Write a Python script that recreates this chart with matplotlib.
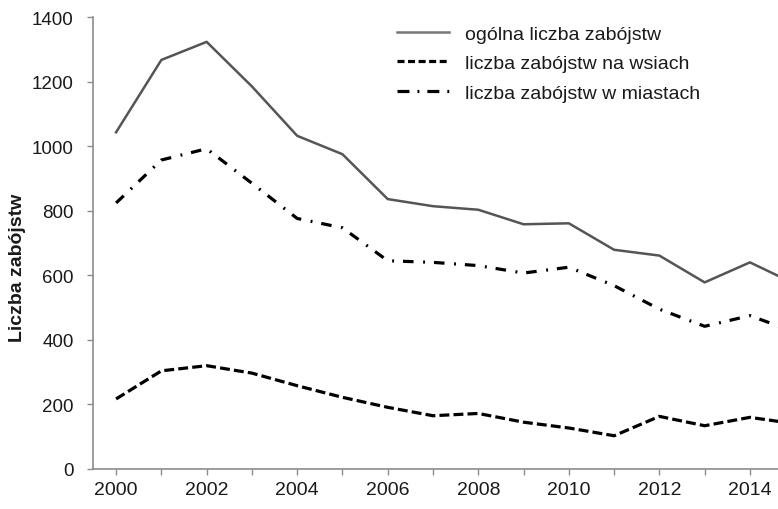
import numpy as np
import matplotlib
matplotlib.use("Agg")
import matplotlib.pyplot as plt

plt.rcParams['font.family'] = ['Liberation Sans', 'DejaVu Sans']

years = list(range(2000, 2016))
total = [1043, 1267, 1323, 1185, 1032, 975, 836, 814, 803, 758, 761, 679, 661, 578, 640, 573]
rural = [217, 304, 320, 297, 258, 222, 191, 165, 172, 145, 127, 103, 163, 134, 160, 140]
urban = [824, 957, 992, 885, 776, 747, 645, 640, 630, 607, 625, 568, 495, 442, 475, 424]

labels = ["ogólna liczba zabójstw", "liczba zabójstw na wsiach", "liczba zabójstw w miastach"]
xtick_years = list(range(2000, 2015))
xtick_labels = [str(y) if y % 2 == 0 else "" for y in xtick_years]
yticks = list(range(0, 1401, 200))

fig = plt.figure(figsize=(7.78, 5.10), dpi=100)
ax = fig.add_axes([93 / 778, 40 / 510, 685 / 778, 452 / 510])

ax.plot(years, total, '-', color="#555555", lw=1.8, label=labels[0])
ax.plot(years, rural, color="black", lw=2.3, dashes=(3.1, 1.3), label=labels[1])
ax.plot(years, urban, color="black", lw=2.3, dashes=(3.3, 3.0, 0.6, 2.8), label=labels[2])

ax.set_xlim(1999.49, 2014.62)
ax.set_ylim(0, 1400)

for s in ['top', 'right']:
    ax.spines[s].set_visible(False)
for s in ['left', 'bottom']:
    ax.spines[s].set_color("#8c8c8c")
    ax.spines[s].set_linewidth(1.2)

ax.set_xticks(xtick_years)
ax.set_xticklabels(xtick_labels)
ax.set_yticks(yticks)
ax.tick_params(axis='x', length=4.5, width=1, color="#8c8c8c", pad=4.5, labelsize=14, labelcolor="#1a1a1a")
ax.tick_params(axis='y', length=4.5, width=1, color="#8c8c8c", pad=9.5, labelsize=13.5, labelcolor="#1a1a1a")

fig.text(18 / 778, 1 - 268 / 510, "Liczba zabójstw", rotation=90, ha='center', va='center',
         fontsize=14, fontweight='bold', color="#1a1a1a")

leg = ax.legend(loc='upper left', bbox_to_anchor=(397 / 778, 1 - 26 / 510), bbox_transform=fig.transFigure,
                frameon=False, fontsize=14, handlelength=2.67, handletextpad=0.82, labelspacing=0.62,
                borderaxespad=0, borderpad=0)
for t in leg.get_texts():
    t.set_color("#1a1a1a")
leg_lines = leg.get_lines()
leg_lines[0].set_color("#777777")
leg_lines[1].set_dashes((2.2, 1.1))
leg_lines[2].set_dashes((3.75, 2.5, 0.6, 2.5))

fig.savefig("out.png", dpi=100)
